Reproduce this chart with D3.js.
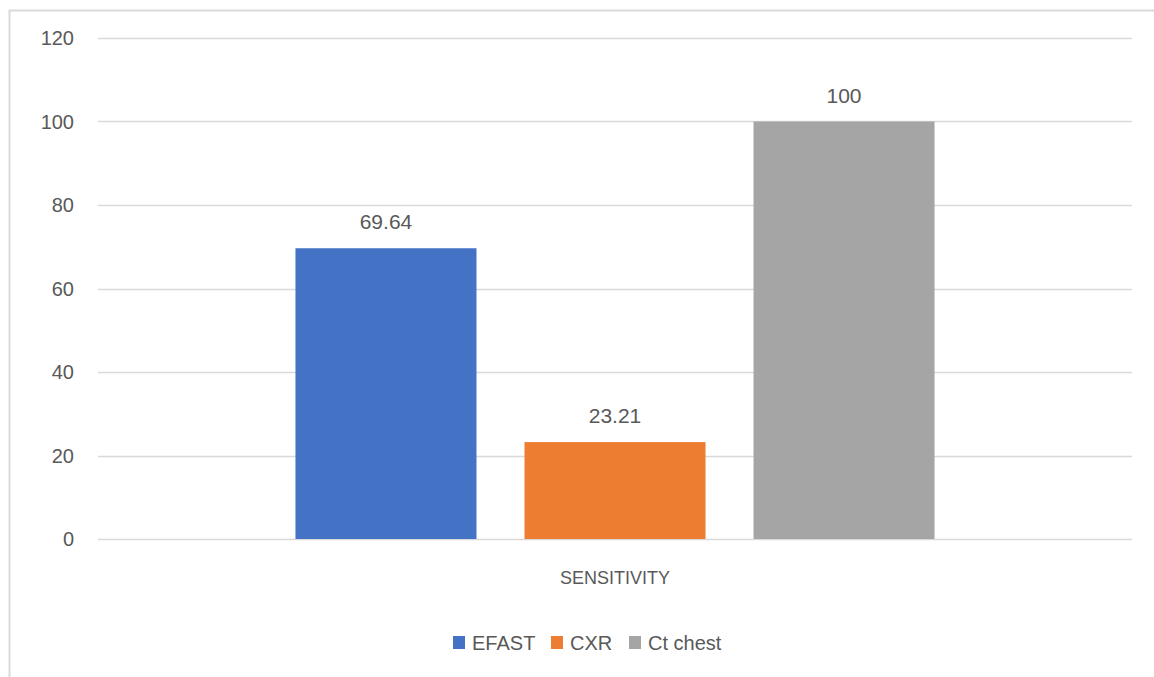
<!DOCTYPE html>
<html>
<head>
<meta charset="utf-8">
<script src="https://cdn.jsdelivr.net/npm/d3@7"></script>
<style>
  body { margin: 0; background: #fff; }
  svg text { font-family: "Liberation Sans", "DejaVu Sans", sans-serif; fill: #595959; }
</style>
</head>
<body>
<svg id="chart" width="1154" height="677"></svg>
<script>
// chart values
const categories = ["SENSITIVITY"];
const seriesNames = ["EFAST", "CXR", "Ct chest"];
const seriesValues = [69.64, 23.21, 100];
const seriesColors = ["#4472C4", "#ED7D31", "#A5A5A5"];
const yTicks = [0, 20, 40, 60, 80, 100, 120];

const svg = d3.select("#chart");
const width = +svg.attr("width");
const height = +svg.attr("height");

// chart area border (only top and left edges fall inside the window)
svg.append("rect")
    .attr("x", 9.5).attr("y", 10.5)
    .attr("width", width + 20).attr("height", height + 20)
    .attr("fill", "none")
    .attr("stroke", "#d9d9d9")
    .attr("stroke-width", 2);

const plot = { left: 98, right: 1132, top: 38, bottom: 539 };

const y = d3.scaleLinear().domain([0, 120]).range([plot.bottom, plot.top]);

const x0 = d3.scaleBand()
    .domain(categories)
    .range([plot.left, plot.right])
    .paddingInner(0)
    .paddingOuter(0.309);

const x1 = d3.scaleBand()
    .domain(seriesNames)
    .range([0, x0.bandwidth()])
    .paddingInner(0.2096)
    .paddingOuter(0);

// gridlines
svg.append("g")
    .selectAll("line")
    .data(yTicks)
    .join("line")
    .attr("x1", plot.left).attr("x2", plot.right)
    .attr("y1", d => Math.round(y(d)) + 0.5)
    .attr("y2", d => Math.round(y(d)) + 0.5)
    .attr("stroke", "#d9d9d9")
    .attr("stroke-width", 1.3);

// y tick labels
svg.append("g")
    .selectAll("text")
    .data(yTicks)
    .join("text")
    .attr("x", 74)
    .attr("y", d => y(d))
    .attr("dy", "0.35em")
    .attr("text-anchor", "end")
    .attr("font-size", 20)
    .text(d => d);

// bars
const rows = seriesNames.map((name, i) => ({ name, value: seriesValues[i], color: seriesColors[i] }));

const group = svg.append("g")
    .attr("transform", `translate(${x0(categories[0])},0)`);

group.selectAll("rect")
    .data(rows)
    .join("rect")
    .attr("x", d => x1(d.name))
    .attr("y", d => y(d.value))
    .attr("width", x1.bandwidth())
    .attr("height", d => y(0) - y(d.value))
    .attr("fill", d => d.color);

// value labels
group.selectAll("text")
    .data(rows)
    .join("text")
    .attr("x", d => x1(d.name) + x1.bandwidth() / 2)
    .attr("y", d => y(d.value) - 19)
    .attr("text-anchor", "middle")
    .attr("font-size", 21)
    .text(d => d.value);

// category label
svg.append("text")
    .attr("x", x0(categories[0]) + x0.bandwidth() / 2)
    .attr("y", 584)
    .attr("text-anchor", "middle")
    .attr("font-size", 18)
    .text(categories[0]);

// legend
const legendX = [453, 551, 629];
const legend = svg.append("g")
    .selectAll("g")
    .data(rows)
    .join("g")
    .attr("transform", (d, i) => `translate(${legendX[i]},636)`);

legend.append("rect")
    .attr("width", 12).attr("height", 13)
    .attr("fill", d => d.color);

legend.append("text")
    .attr("x", 19)
    .attr("y", 7)
    .attr("dy", "0.35em")
    .attr("font-size", 20)
    .text(d => d.name);
</script>
</body>
</html>
